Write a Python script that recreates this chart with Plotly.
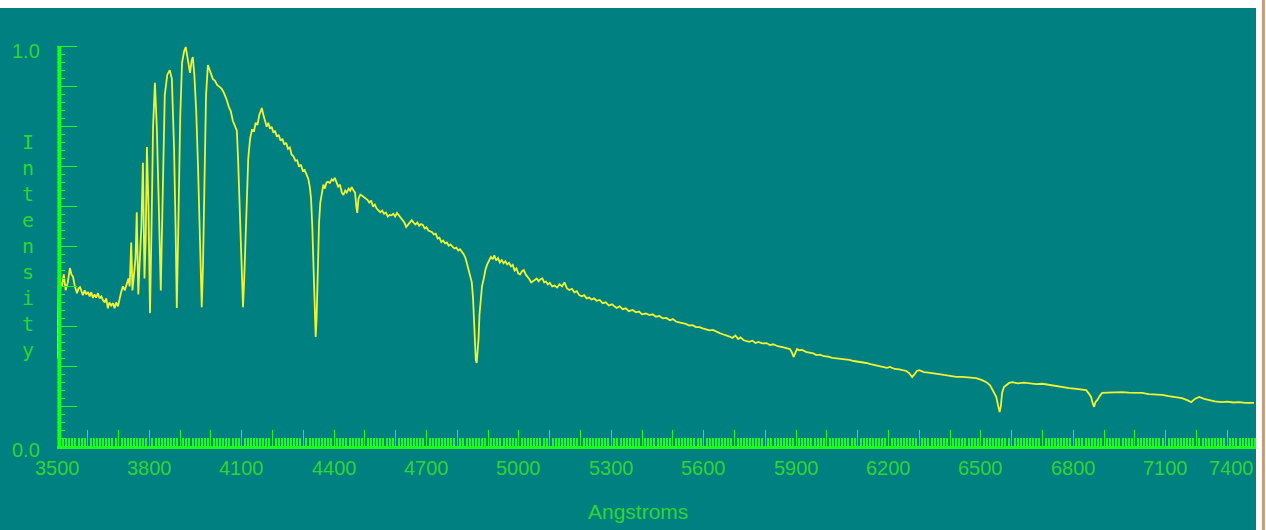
import plotly.graph_objects as go

# ---- data ----
wavelength = [
    3500, 3503, 3506, 3509, 3512, 3516, 3522, 3528, 3535, 3542, 3547, 3552, 3558, 3565, 3570, 3575,
    3580, 3584, 3590, 3595, 3601, 3606, 3611, 3617, 3622, 3627, 3633, 3638, 3644, 3649, 3655, 3660,
    3665, 3670, 3676, 3682, 3687, 3692, 3698, 3703, 3708, 3714, 3720, 3726, 3732, 3736, 3741, 3745,
    3750, 3755, 3759, 3764, 3768, 3774, 3779, 3784, 3788, 3792, 3797, 3802, 3807, 3812, 3818, 3824,
    3830, 3837, 3843, 3850, 3858, 3866, 3873, 3880, 3885, 3889, 3894, 3900, 3906, 3913, 3918, 3923,
    3928, 3932, 3937, 3941, 3946, 3952, 3958, 3963, 3967, 3970, 3974, 3979, 3984, 3990, 3995, 4000,
    4006, 4013, 4020, 4028, 4035, 4042, 4050, 4058, 4064, 4071, 4078, 4084, 4088, 4092, 4097, 4101,
    4104, 4108, 4113, 4117, 4121, 4127, 4133, 4140, 4145, 4151, 4157, 4162, 4165, 4170, 4175, 4181,
    4186, 4192, 4197, 4203, 4208, 4214, 4220, 4226, 4232, 4238, 4244, 4250, 4256, 4262, 4268, 4274,
    4280, 4286, 4292, 4298, 4304, 4310, 4316, 4321, 4325, 4329, 4333, 4337, 4340, 4343, 4347, 4351,
    4355, 4360, 4365, 4370, 4375, 4380, 4386, 4392, 4397, 4402, 4408, 4413, 4419, 4425, 4430, 4436,
    4441, 4447, 4452, 4457, 4463, 4468, 4472, 4475, 4479, 4485, 4490, 4496, 4502, 4508, 4514, 4520,
    4526, 4532, 4538, 4544, 4550, 4556, 4562, 4568, 4574, 4580, 4586, 4592, 4598, 4604, 4610, 4616,
    4622, 4628, 4634, 4640, 4646, 4652, 4658, 4664, 4670, 4676, 4682, 4688, 4694, 4700, 4706, 4712,
    4718, 4724, 4730, 4736, 4742, 4748, 4754, 4760, 4766, 4772, 4778, 4785, 4791, 4797, 4803, 4809,
    4815, 4821, 4827, 4832, 4837, 4842, 4847, 4851, 4854, 4857, 4860, 4863, 4866, 4869, 4872, 4876,
    4880, 4886, 4891, 4897, 4903, 4909, 4915, 4920, 4926, 4932, 4938, 4944, 4950, 4956, 4962, 4968,
    4974, 4980, 4986, 4992, 4998, 5004, 5010, 5016, 5022, 5028, 5034, 5040, 5046, 5052, 5058, 5064,
    5070, 5076, 5082, 5088, 5094, 5100, 5108, 5116, 5124, 5132, 5140, 5148, 5156, 5164, 5172, 5180,
    5188, 5196, 5204, 5212, 5220, 5228, 5236, 5244, 5252, 5262, 5272, 5282, 5292, 5302, 5317, 5327,
    5337, 5347, 5357, 5369, 5380, 5390, 5400, 5412, 5424, 5434, 5445, 5456, 5467, 5479, 5490, 5500,
    5510, 5520, 5531, 5542, 5553, 5564, 5575, 5586, 5597, 5608, 5619, 5630, 5641, 5652, 5662, 5672,
    5682, 5693, 5703, 5712, 5720, 5730, 5740, 5748, 5758, 5768, 5778, 5790, 5804, 5815, 5826, 5840,
    5856, 5868, 5880, 5886, 5892, 5897, 5903, 5910, 5920, 5932, 5944, 5956, 5966, 5978, 5990, 6004,
    6018, 6032, 6046, 6060, 6073, 6087, 6100, 6114, 6128, 6142, 6155, 6168, 6180, 6195, 6205, 6220,
    6235, 6245, 6258, 6268, 6277, 6285, 6292, 6300, 6315, 6330, 6342, 6360, 6380, 6400, 6420, 6440,
    6460, 6485, 6504, 6518, 6530, 6540, 6550, 6557, 6561, 6565, 6569, 6575, 6582, 6592, 6602, 6620,
    6640, 6657, 6680, 6700, 6722, 6745, 6765, 6787, 6810, 6830, 6842, 6852, 6858, 6864, 6868, 6872,
    6878, 6886, 6894, 6910, 6930, 6959, 6980, 7000, 7024, 7045, 7065, 7089, 7110, 7130, 7153, 7170,
    7183, 7195, 7209, 7225, 7241, 7260, 7283, 7300, 7320, 7338, 7360, 7387,
]
intensity = [
    0.22, 0.36, 0.42, 0.37, 0.41, 0.40, 0.43, 0.39, 0.41, 0.446, 0.43, 0.424, 0.40, 0.383, 0.395, 0.398,
    0.385, 0.378, 0.39, 0.38, 0.386, 0.375, 0.385, 0.371, 0.38, 0.372, 0.383, 0.37, 0.375, 0.366, 0.36, 0.37,
    0.345, 0.36, 0.352, 0.358, 0.345, 0.36, 0.35, 0.37, 0.385, 0.40, 0.39, 0.405, 0.42, 0.40, 0.51, 0.39,
    0.43, 0.47, 0.586, 0.38, 0.45, 0.55, 0.71, 0.42, 0.52, 0.749, 0.60, 0.333, 0.55, 0.80, 0.91, 0.80,
    0.62, 0.39, 0.62, 0.88, 0.93, 0.942, 0.92, 0.75, 0.55, 0.346, 0.55, 0.82, 0.96, 0.99, 1.0, 0.975,
    0.95, 0.935, 0.965, 0.975, 0.93, 0.84, 0.70, 0.52, 0.40, 0.348, 0.45, 0.70, 0.88, 0.955, 0.945, 0.93,
    0.92, 0.915, 0.905, 0.90, 0.895, 0.885, 0.87, 0.85, 0.84, 0.815, 0.80, 0.79, 0.72, 0.62, 0.49, 0.38,
    0.348, 0.42, 0.55, 0.65, 0.72, 0.77, 0.792, 0.79, 0.81, 0.805, 0.83, 0.84, 0.847, 0.83, 0.815, 0.80,
    0.81, 0.795, 0.80, 0.785, 0.79, 0.775, 0.78, 0.765, 0.77, 0.755, 0.76, 0.745, 0.748, 0.73, 0.726, 0.715,
    0.716, 0.70, 0.705, 0.69, 0.692, 0.68, 0.67, 0.649, 0.62, 0.55, 0.45, 0.35, 0.273, 0.32, 0.45, 0.56,
    0.61, 0.635, 0.655, 0.645, 0.66, 0.662, 0.659, 0.668, 0.665, 0.672, 0.66, 0.65, 0.655, 0.635, 0.629, 0.64,
    0.635, 0.645, 0.64, 0.649, 0.64, 0.635, 0.60, 0.584, 0.62, 0.63, 0.628, 0.625, 0.622, 0.617, 0.61, 0.615,
    0.60, 0.605, 0.595, 0.59, 0.586, 0.59, 0.582, 0.585, 0.575, 0.579, 0.578, 0.582, 0.575, 0.584, 0.578, 0.57,
    0.565, 0.56, 0.549, 0.555, 0.56, 0.566, 0.56, 0.555, 0.56, 0.552, 0.556, 0.554, 0.545, 0.548, 0.54, 0.538,
    0.536, 0.53, 0.532, 0.52, 0.522, 0.511, 0.515, 0.508, 0.51, 0.502, 0.505, 0.499, 0.495, 0.497, 0.49, 0.493,
    0.487, 0.48, 0.47, 0.455, 0.44, 0.425, 0.41, 0.37, 0.32, 0.27, 0.215, 0.208, 0.24, 0.27, 0.33, 0.38,
    0.40, 0.42, 0.441, 0.455, 0.465, 0.474, 0.468, 0.478, 0.465, 0.471, 0.46, 0.466, 0.458, 0.463, 0.455, 0.459,
    0.45, 0.454, 0.44, 0.445, 0.432, 0.43, 0.438, 0.441, 0.43, 0.425, 0.418, 0.41, 0.413, 0.415, 0.42, 0.413,
    0.418, 0.42, 0.41, 0.412, 0.405, 0.409, 0.40, 0.402, 0.397, 0.405, 0.40, 0.41, 0.395, 0.391, 0.394, 0.385,
    0.388, 0.378, 0.375, 0.378, 0.37, 0.372, 0.367, 0.37, 0.364, 0.366, 0.358, 0.36, 0.352, 0.355, 0.346, 0.35,
    0.343, 0.345, 0.338, 0.341, 0.335, 0.337, 0.33, 0.332, 0.328, 0.33, 0.324, 0.326, 0.32, 0.321, 0.315, 0.318,
    0.312, 0.31, 0.308, 0.306, 0.302, 0.303, 0.298, 0.298, 0.295, 0.293, 0.29, 0.291, 0.286, 0.283, 0.28, 0.278,
    0.275, 0.271, 0.277, 0.268, 0.272, 0.265, 0.263, 0.261, 0.264, 0.258, 0.261, 0.257, 0.258, 0.253, 0.255, 0.25,
    0.248, 0.246, 0.243, 0.235, 0.223, 0.232, 0.243, 0.24, 0.241, 0.236, 0.234, 0.232, 0.228, 0.229, 0.225, 0.224,
    0.221, 0.22, 0.218, 0.217, 0.216, 0.213, 0.212, 0.21, 0.208, 0.205, 0.203, 0.20, 0.198, 0.196, 0.198, 0.193,
    0.192, 0.19, 0.188, 0.182, 0.173, 0.18, 0.188, 0.19, 0.185, 0.184, 0.183, 0.18, 0.178, 0.176, 0.173, 0.173,
    0.172, 0.17, 0.165, 0.16, 0.152, 0.138, 0.123, 0.098, 0.085, 0.10, 0.133, 0.148, 0.153, 0.158, 0.16, 0.157,
    0.159, 0.158, 0.155, 0.156, 0.153, 0.15, 0.148, 0.145, 0.143, 0.141, 0.14, 0.13, 0.123, 0.105, 0.098, 0.11,
    0.115, 0.125, 0.133, 0.134, 0.135, 0.135, 0.134, 0.134, 0.133, 0.13, 0.129, 0.128, 0.125, 0.122, 0.12, 0.115,
    0.11, 0.118, 0.123, 0.118, 0.115, 0.112, 0.11, 0.111, 0.109, 0.11, 0.108, 0.108,
]
x_tick_labels = [3500, 3800, 4100, 4400, 4700, 5000, 5300, 5600, 5900, 6200, 6500, 6800, 7100, 7400]
y_tick_labels = ["0.0", "1.0"]
y_tick_values = [0.0, 1.0]
x_title = "Angstroms"
y_title = "Intensity"

TEAL = "#008080"
AXIS_GREEN = "#19ff19"
TEXT_GREEN = "#2fd62f"
LINE_YELLOW = "#f2f230"

fig = go.Figure(
    go.Scatter(
        x=wavelength, y=intensity, mode="lines",
        line=dict(color=LINE_YELLOW, width=1.8), hoverinfo="skip",
    )
)

major_y = [round(i * 0.1, 2) for i in range(11)]
minor_y = [round(i * 0.02, 2) for i in range(50) if i % 5]

fig.update_layout(
    width=1266, height=530, autosize=False,
    margin=dict(l=57, r=8, t=39, b=84, pad=0),
    paper_bgcolor=TEAL, plot_bgcolor=TEAL,
    showlegend=False,
    xaxis=dict(
        range=[3500, 7400], showgrid=False, zeroline=False,
        showline=True, linecolor=AXIS_GREEN, linewidth=3,
        ticks="inside", tick0=3500, dtick=100, ticklen=16, tickwidth=1,
        tickcolor=AXIS_GREEN, showticklabels=False,
        minor=dict(ticks="inside", dtick=10, ticklen=8, tickwidth=1.5, tickcolor=AXIS_GREEN),
        fixedrange=True,
    ),
    yaxis=dict(
        range=[0, 1.02], showgrid=False, zeroline=False, showline=False,
        ticks="inside", tickmode="array", tickvals=major_y, ticklen=20, tickwidth=1,
        tickcolor=AXIS_GREEN, showticklabels=False,
        minor=dict(ticks="inside", tickvals=minor_y, ticklen=8, tickwidth=1, tickcolor=AXIS_GREEN),
        fixedrange=True,
    ),
)

# y axis line (from 0.0 to 1.0 only)
fig.add_shape(type="line", xref="paper", yref="y", x0=0.002, x1=0.002, y0=0, y1=1,
              line=dict(color=AXIS_GREEN, width=4))

# white border strips of the original screenshot
fig.add_shape(type="rect", xref="paper", yref="paper", x0=-0.1, x1=1.1, y0=1.0762, y1=1.2,
              fillcolor="white", line=dict(width=0), layer="above")
fig.add_shape(type="rect", xref="paper", yref="paper", x0=0.99833, x1=1.1, y0=-0.3, y1=1.2,
              fillcolor="white", line=dict(width=0), layer="above")
fig.add_shape(type="line", xref="paper", yref="paper", x0=1.0045, x1=1.0045, y0=-0.3, y1=1.2,
              line=dict(color="#c39b7e", width=3), layer="above")

label_font = dict(family="Liberation Sans, Arial, sans-serif", size=20, color=TEXT_GREEN)

for v in x_tick_labels:
    last = v == x_tick_labels[-1]
    fig.add_annotation(
        x=v, xref="x", y=0, yref="paper", text=str(v), showarrow=False,
        xanchor="right" if last else "center", yanchor="middle",
        xshift=-2 if last else 0, yshift=-22, font=label_font,
    )

for v, t in zip(y_tick_values, y_tick_labels):
    fig.add_annotation(
        x=0, xref="paper", y=v, yref="y", text=t, showarrow=False,
        xanchor="center", yanchor="middle", xshift=-31, yshift=-4, font=label_font,
    )

fig.add_annotation(
    x=0.5, xref="paper", y=0, yref="paper", text=x_title, showarrow=False,
    xanchor="center", yanchor="middle", xshift=-20, yshift=-65,
    font=dict(family="Liberation Sans, Arial, sans-serif", size=21, color=TEXT_GREEN),
)

fig.add_annotation(
    x=0, xref="paper", y=0.5, yref="y", text="<br>".join(list(y_title)), showarrow=False,
    xanchor="center", yanchor="middle", xshift=-29,
    font=dict(family="DejaVu Sans Mono, monospace", size=20, color=TEXT_GREEN),
)

fig.write_html(
    "out.html",
    config={"displayModeBar": False},
    post_script="document.body.style.margin='0';document.body.style.overflow='hidden';",
)
